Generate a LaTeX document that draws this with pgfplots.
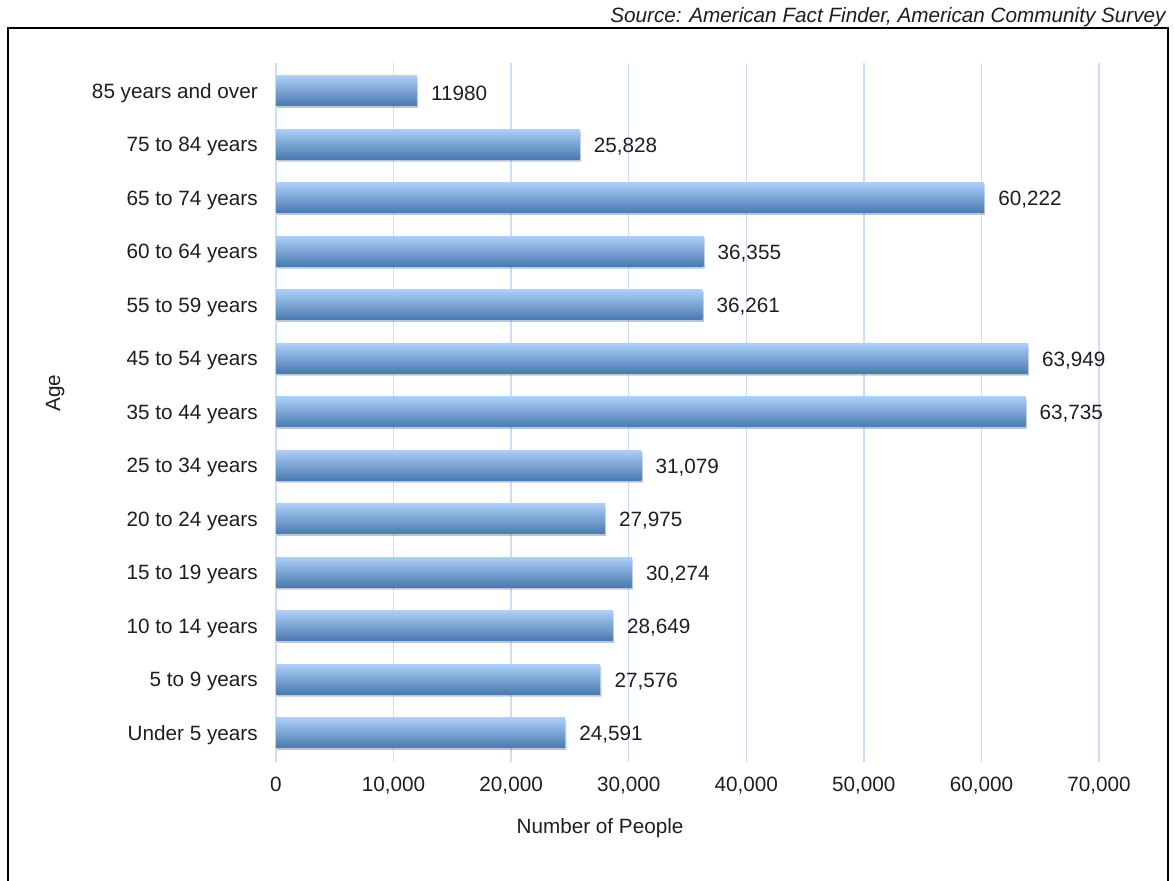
\documentclass[border=0pt]{standalone}
\usepackage{pgfplots}
\pgfplotsset{compat=1.18}
\usepackage{pgfplotstable}
\usetikzlibrary{shadows}
\usepackage{fontspec}
\setmainfont{Liberation Sans}
\definecolor{gridc}{HTML}{CCDDF5}
\definecolor{bartop}{HTML}{ABCEF6}
\definecolor{barbot}{HTML}{4979B0}
\definecolor{txt}{HTML}{1E1E1E}

\pgfplotstableread{
pos value label
0 24591 {24,591}
1 27576 {27,576}
2 28649 {28,649}
3 30274 {30,274}
4 27975 {27,975}
5 31079 {31,079}
6 63735 {63,735}
7 63949 {63,949}
8 36261 {36,261}
9 36355 {36,355}
10 60222 {60,222}
11 25828 {25,828}
12 11980 {11980}
}\agedata

\begin{document}
\fontsize{10.35}{12.4}\selectfont
\begin{tikzpicture}
\begin{axis}[
  at={(0,0)}, anchor=south west,
  scale only axis, width=411.5pt, height=349.5pt,
  xbar, bar width=15pt, bar shift=0pt,
  xmin=0, xmax=70000, ymin=-0.542, ymax=12.523,
  xtick={0,10000,...,70000},
  ytick={0,...,12},
  yticklabels={Under 5 years,5 to 9 years,10 to 14 years,15 to 19 years,20 to 24 years,25 to 34 years,35 to 44 years,45 to 54 years,55 to 59 years,60 to 64 years,65 to 74 years,75 to 84 years,85 years and over},
  xmajorgrids, ymajorgrids=false,
  major grid style={draw=gridc, line width=0.75pt},
  axis line style={draw=none}, major tick length=0pt,
  scaled x ticks=false,
  /pgf/number format/1000 sep={,},
  /pgf/number format/assume math mode=true,
  tick label style={text=txt, font=\fontsize{10.35}{12.4}\selectfont},
  xticklabel style={yshift=-4pt},
  yticklabel style={xshift=-5.5pt, yshift=-1pt},
  xlabel={Number of People},
  xlabel style={at={(axis description cs:0.3937,-0.0944)}, anchor=center, text=txt},
  ylabel={Age},
  ylabel style={at={(axis description cs:-0.2685,0.528)}, anchor=center, text=txt},
  nodes near coords,
  point meta=explicit symbolic,
  nodes near coords style={anchor=west, xshift=3.5pt, yshift=-1pt, text=txt, font=\fontsize{10.35}{12.4}\selectfont},
]
\pgfplotsinvokeforeach{0,...,12}{
\addplot[draw=none, top color=bartop, bottom color=barbot,
  drop shadow={shadow xshift=0.6pt, shadow yshift=-0.8pt, opacity=0.25},
  restrict y to domain=#1:#1] table[x=value, y=pos, meta=label] {\agedata};
}
\end{axis}
\draw[line width=1pt, black] (-134pt,-59.5pt) -- (-134pt,367pt) -- (446pt,367pt) -- (446pt,-59.5pt);
\node[anchor=base east, font=\itshape, text=txt, inner sep=0pt] at (445pt,369.5pt) {Source: American Fact Finder, American Community Survey};
\pgfresetboundingbox
\useasboundingbox (-138pt,-59.5pt) rectangle (449pt,381pt);
\end{tikzpicture}
\end{document}
